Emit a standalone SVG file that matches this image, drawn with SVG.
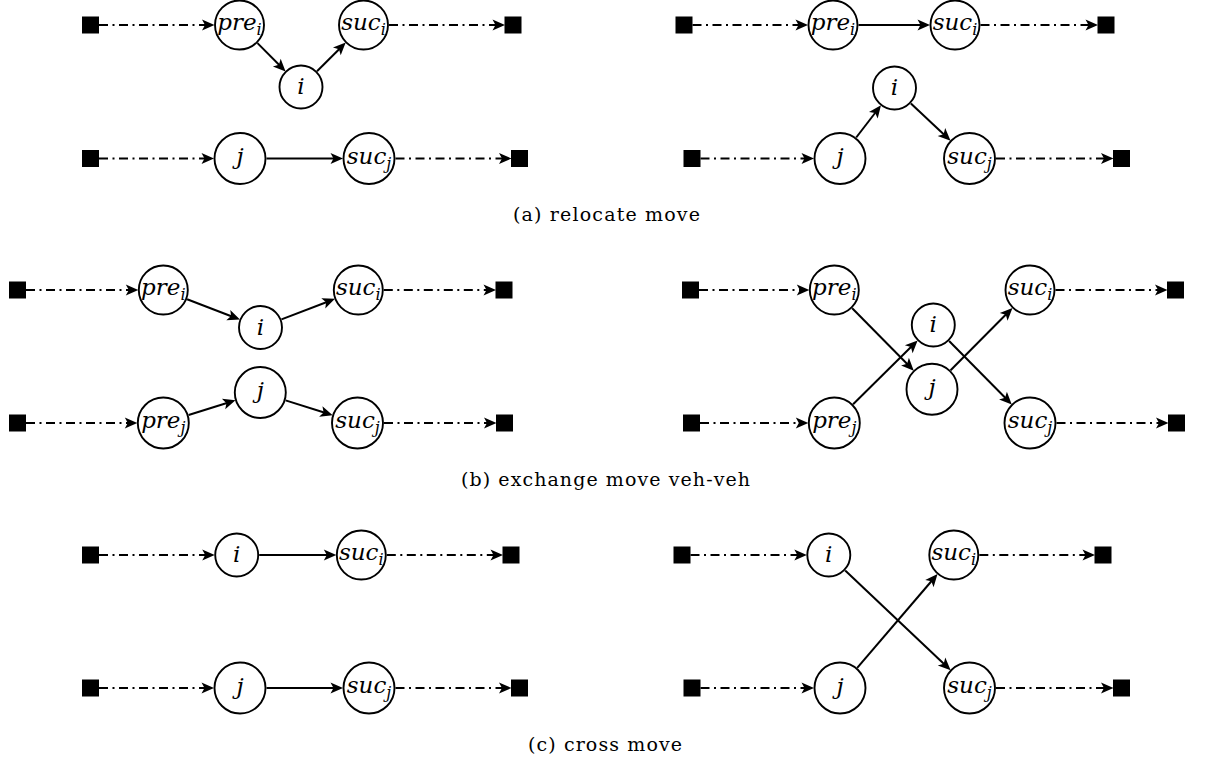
<svg xmlns="http://www.w3.org/2000/svg" width="1211" height="763" viewBox="0 0 1211 763">
<style>
.n circle{fill:#fff;stroke:#000;stroke-width:1.9}
.n text{font-family:"DejaVu Serif","Liberation Serif",serif;font-style:italic;font-size:23px;text-anchor:middle;fill:#000}
.n tspan.s{font-size:16px}
.sq{fill:#000}
.e line{stroke:#000;stroke-width:2;fill:none;marker-end:url(#ah)}
.e line.d{stroke-dasharray:9 4.5 2 4.5}
.cap{font-family:"DejaVu Serif","Liberation Serif",serif;font-size:19px;text-anchor:middle;fill:#000}
</style>
<defs>
<marker id="ah" markerUnits="userSpaceOnUse" viewBox="-8 -7 15 14" refX="0" refY="0" markerWidth="15" markerHeight="14" orient="auto" overflow="visible">
<path d="M6.5,0 L-6,-5.5 L-3,0 L-6,5.5 Z" fill="#000"/>
</marker>
</defs>
<rect width="1211" height="763" fill="#fff"/>

<g id="connectors" class="e">
<line class="d" x1="99" y1="25" x2="208" y2="25"/>
<line x1="257.5" y1="43.1" x2="281" y2="66.8"/>
<line x1="317" y1="71.2" x2="341.1" y2="47.2"/>
<line class="d" x1="389" y1="25" x2="498.5" y2="25"/>
<line class="d" x1="99" y1="158.5" x2="207.5" y2="158.5"/>
<line x1="266.5" y1="158.5" x2="336.5" y2="158.5"/>
<line class="d" x1="395.5" y1="158.5" x2="505" y2="158.5"/>
<line class="d" x1="692.5" y1="25" x2="801.5" y2="25"/>
<line x1="858.5" y1="25" x2="923.5" y2="25"/>
<line class="d" x1="980.5" y1="25" x2="1091.5" y2="25"/>
<line class="d" x1="700.5" y1="158.5" x2="807.5" y2="158.5"/>
<line x1="856.2" y1="137.5" x2="877" y2="110.5"/>
<line x1="910.9" y1="103.4" x2="945.8" y2="136.2"/>
<line class="d" x1="996" y1="158.5" x2="1107" y2="158.5"/>
<line class="d" x1="26" y1="290" x2="131.8" y2="290"/>
<line x1="187.1" y1="299.2" x2="233.9" y2="317.2"/>
<line x1="281.5" y1="319.4" x2="328.9" y2="301.2"/>
<line class="d" x1="383.8" y1="290" x2="489.5" y2="290"/>
<line class="d" x1="26" y1="423" x2="130.8" y2="423"/>
<line x1="188.6" y1="415.05" x2="229.3" y2="402.25"/>
<line x1="285.6" y1="400.4" x2="326.5" y2="413.3"/>
<line class="d" x1="384" y1="423" x2="490" y2="423"/>
<line class="d" x1="699" y1="290" x2="802.8" y2="290"/>
<line x1="852.2" y1="308.2" x2="909.2" y2="366"/>
<line x1="950.6" y1="370.3" x2="1007.9" y2="312.5"/>
<line class="d" x1="1055.5" y1="290" x2="1161" y2="290"/>
<line class="d" x1="700" y1="423" x2="801.8" y2="423"/>
<line x1="853.1" y1="404.3" x2="913" y2="345"/>
<line x1="949.1" y1="341" x2="1007.2" y2="399.8"/>
<line class="d" x1="1056.5" y1="423" x2="1162" y2="423"/>
<line class="d" x1="99" y1="555" x2="208.2" y2="555"/>
<line x1="259.2" y1="555" x2="329.8" y2="555"/>
<line class="d" x1="386.8" y1="555" x2="496.5" y2="555"/>
<line class="d" x1="99" y1="688" x2="207.5" y2="688"/>
<line x1="266.5" y1="688" x2="336.5" y2="688"/>
<line class="d" x1="395.5" y1="688" x2="505" y2="688"/>
<line class="d" x1="690.5" y1="555" x2="800.3" y2="555"/>
<line x1="845.2" y1="570.5" x2="945.9" y2="665.7"/>
<line class="d" x1="979.3" y1="555" x2="1088.5" y2="555"/>
<line class="d" x1="700.5" y1="688" x2="807.5" y2="688"/>
<line x1="857.2" y1="667.9" x2="933.3" y2="579"/>
<line class="d" x1="996" y1="688" x2="1107" y2="688"/>
</g>

<g id="depots">
<rect id="aL-s1" class="sq" x="82" y="16.5" width="17" height="17"/>
<rect id="aL-e1" class="sq" x="504.5" y="16.5" width="17" height="17"/>
<rect id="aL-s2" class="sq" x="82" y="150" width="17" height="17"/>
<rect id="aL-e2" class="sq" x="511" y="150" width="17" height="17"/>
<rect id="aR-s1" class="sq" x="675.5" y="16.5" width="17" height="17"/>
<rect id="aR-e1" class="sq" x="1097.5" y="16.5" width="17" height="17"/>
<rect id="aR-s2" class="sq" x="683.5" y="150" width="17" height="17"/>
<rect id="aR-e2" class="sq" x="1113" y="150" width="17" height="17"/>
<rect id="bL-s1" class="sq" x="9" y="281.5" width="17" height="17"/>
<rect id="bL-e1" class="sq" x="495.5" y="281.5" width="17" height="17"/>
<rect id="bL-s2" class="sq" x="9" y="414.5" width="17" height="17"/>
<rect id="bL-e2" class="sq" x="496" y="414.5" width="17" height="17"/>
<rect id="bR-s1" class="sq" x="682" y="281.5" width="17" height="17"/>
<rect id="bR-e1" class="sq" x="1167" y="281.5" width="17" height="17"/>
<rect id="bR-s2" class="sq" x="683" y="414.5" width="17" height="17"/>
<rect id="bR-e2" class="sq" x="1168" y="414.5" width="17" height="17"/>
<rect id="cL-s1" class="sq" x="82" y="546.5" width="17" height="17"/>
<rect id="cL-e1" class="sq" x="502.5" y="546.5" width="17" height="17"/>
<rect id="cL-s2" class="sq" x="82" y="679.5" width="17" height="17"/>
<rect id="cL-e2" class="sq" x="511" y="679.5" width="17" height="17"/>
<rect id="cR-s1" class="sq" x="673.5" y="546.5" width="17" height="17"/>
<rect id="cR-e1" class="sq" x="1094.5" y="546.5" width="17" height="17"/>
<rect id="cR-s2" class="sq" x="683.5" y="679.5" width="17" height="17"/>
<rect id="cR-e2" class="sq" x="1113" y="679.5" width="17" height="17"/>
</g>

<g id="aL-pre_i" class="n"><circle cx="239.5" cy="25" r="24.5"/><text x="239.5" y="30">pre<tspan class="s" dy="5">i</tspan></text></g>
<g id="aL-suc_i" class="n"><circle cx="363.5" cy="25" r="24.5"/><text x="363.5" y="30">suc<tspan class="s" dy="5">i</tspan></text></g>
<g id="aL-i" class="n"><circle cx="301" cy="87" r="21.5"/><text x="301" y="94">i</text></g>
<g id="aL-j" class="n"><circle cx="240" cy="158.5" r="25.5"/><text x="240" y="164">j</text></g>
<g id="aL-suc_j" class="n"><circle cx="369" cy="158.5" r="25.5"/><text x="369" y="163.5">suc<tspan class="s" dy="5">j</tspan></text></g>

<g id="aR-pre_i" class="n"><circle cx="833" cy="25" r="24.5"/><text x="833" y="30">pre<tspan class="s" dy="5">i</tspan></text></g>
<g id="aR-suc_i" class="n"><circle cx="955" cy="25" r="24.5"/><text x="955" y="30">suc<tspan class="s" dy="5">i</tspan></text></g>
<g id="aR-i" class="n"><circle cx="894.5" cy="88" r="21.5"/><text x="894.5" y="95">i</text></g>
<g id="aR-j" class="n"><circle cx="840" cy="158.5" r="25.5"/><text x="840" y="164">j</text></g>
<g id="aR-suc_j" class="n"><circle cx="969.5" cy="158.5" r="25.5"/><text x="969.5" y="163.5">suc<tspan class="s" dy="5">j</tspan></text></g>

<g id="bL-pre_i" class="n"><circle cx="163.3" cy="290" r="24.5"/><text x="163.3" y="295">pre<tspan class="s" dy="5">i</tspan></text></g>
<g id="bL-i" class="n"><circle cx="260.5" cy="327.5" r="21.5"/><text x="260.5" y="334.5">i</text></g>
<g id="bL-suc_i" class="n"><circle cx="358.3" cy="290" r="24.5"/><text x="358.3" y="295">suc<tspan class="s" dy="5">i</tspan></text></g>
<g id="bL-pre_j" class="n"><circle cx="163.3" cy="423" r="25.5"/><text x="163.3" y="428">pre<tspan class="s" dy="5">j</tspan></text></g>
<g id="bL-j" class="n"><circle cx="260.3" cy="392.5" r="25.5"/><text x="260.3" y="398">j</text></g>
<g id="bL-suc_j" class="n"><circle cx="357.5" cy="423" r="25.5"/><text x="357.5" y="428">suc<tspan class="s" dy="5">j</tspan></text></g>

<g id="bR-pre_i" class="n"><circle cx="834.3" cy="290" r="24.5"/><text x="834.3" y="295">pre<tspan class="s" dy="5">i</tspan></text></g>
<g id="bR-suc_i" class="n"><circle cx="1030" cy="290" r="24.5"/><text x="1030" y="295">suc<tspan class="s" dy="5">i</tspan></text></g>
<g id="bR-i" class="n"><circle cx="933.3" cy="325" r="21.5"/><text x="933.3" y="332">i</text></g>
<g id="bR-j" class="n"><circle cx="932" cy="389.2" r="25.5"/><text x="932" y="394.7">j</text></g>
<g id="bR-pre_j" class="n"><circle cx="834.3" cy="423" r="25.5"/><text x="834.3" y="428">pre<tspan class="s" dy="5">j</tspan></text></g>
<g id="bR-suc_j" class="n"><circle cx="1030" cy="423" r="25.5"/><text x="1030" y="428">suc<tspan class="s" dy="5">j</tspan></text></g>

<g id="cL-i" class="n"><circle cx="236.7" cy="555" r="21.5"/><text x="236.7" y="562">i</text></g>
<g id="cL-suc_i" class="n"><circle cx="361.3" cy="555" r="24.5"/><text x="361.3" y="560">suc<tspan class="s" dy="5">i</tspan></text></g>
<g id="cL-j" class="n"><circle cx="240" cy="688" r="25.5"/><text x="240" y="693.5">j</text></g>
<g id="cL-suc_j" class="n"><circle cx="369" cy="688" r="25.5"/><text x="369" y="693">suc<tspan class="s" dy="5">j</tspan></text></g>

<g id="cR-i" class="n"><circle cx="828.8" cy="555" r="21.5"/><text x="828.8" y="562">i</text></g>
<g id="cR-suc_i" class="n"><circle cx="953.8" cy="555" r="24.5"/><text x="953.8" y="560">suc<tspan class="s" dy="5">i</tspan></text></g>
<g id="cR-j" class="n"><circle cx="840" cy="688" r="25.5"/><text x="840" y="693.5">j</text></g>
<g id="cR-suc_j" class="n"><circle cx="969.5" cy="688" r="25.5"/><text x="969.5" y="693">suc<tspan class="s" dy="5">j</tspan></text></g>

<g id="captions">
<text class="cap" x="606.5" y="221" textLength="187" lengthAdjust="spacing">(a) relocate move</text>
<text class="cap" x="605.5" y="485.5" textLength="289" lengthAdjust="spacing">(b) exchange move veh-veh</text>
<text class="cap" x="605" y="750.5" textLength="154" lengthAdjust="spacing">(c) cross move</text>
</g>
</svg>
